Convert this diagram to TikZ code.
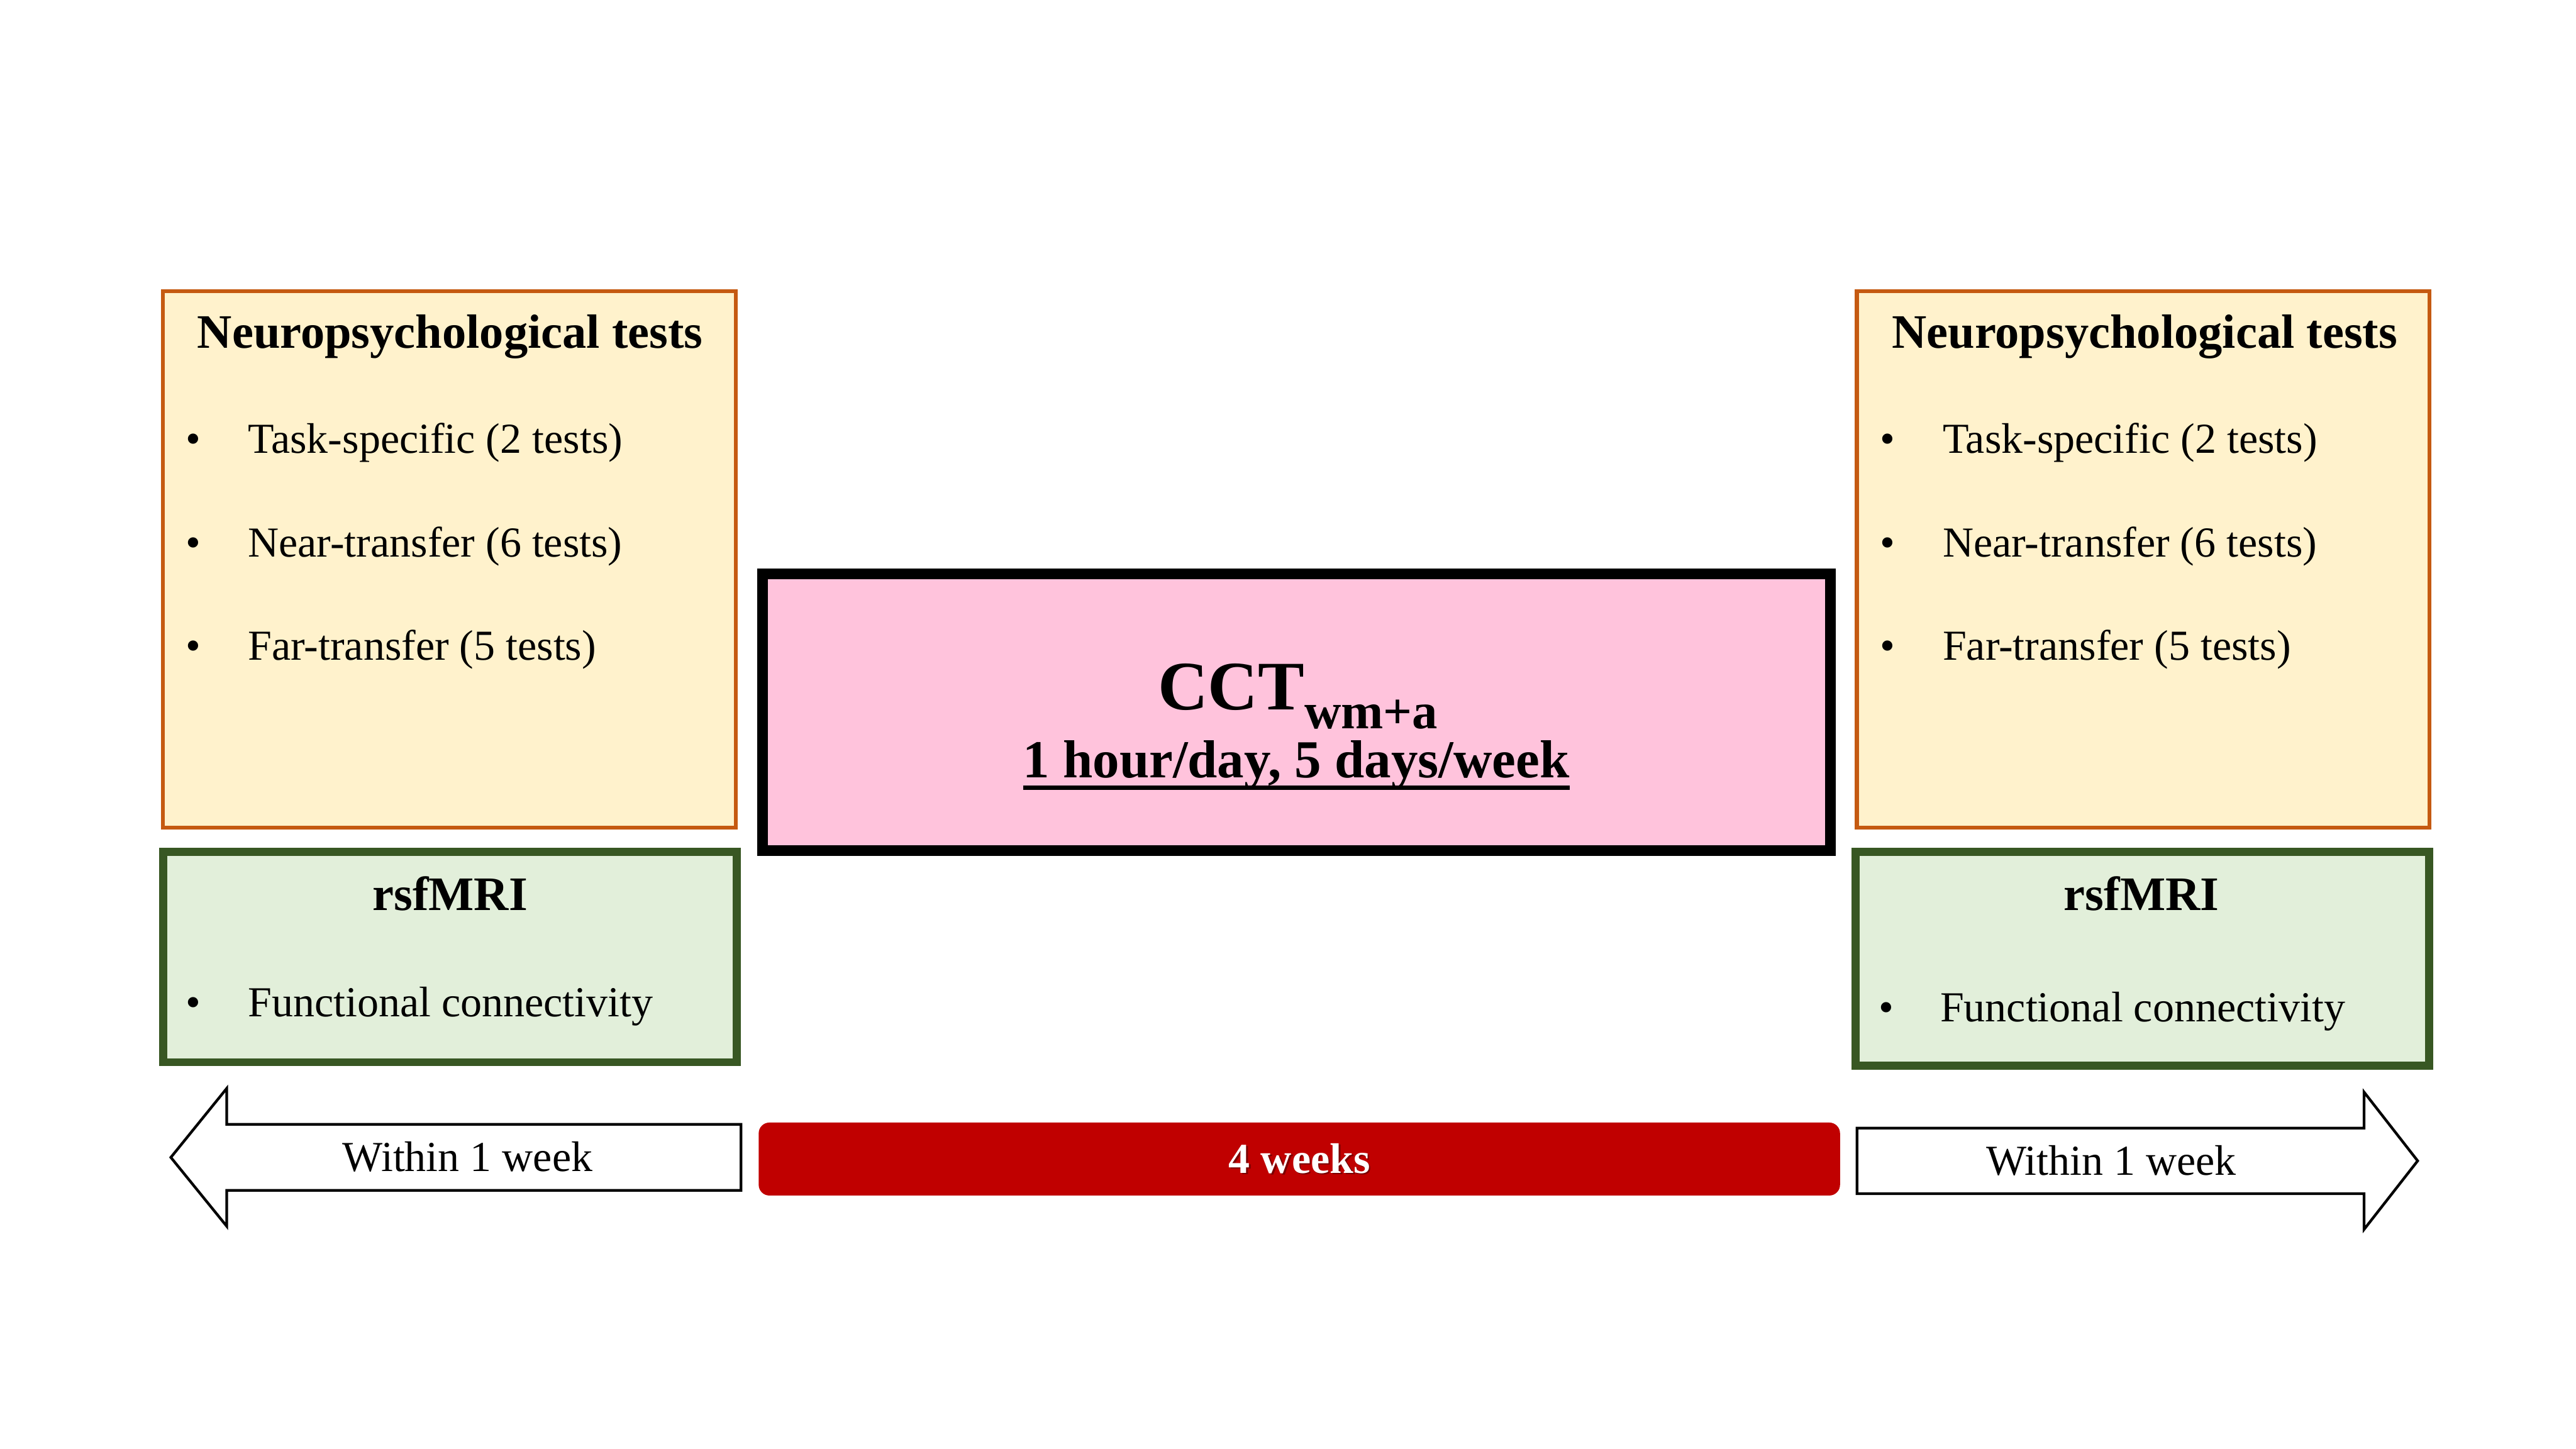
\documentclass[tikz,border=0pt]{standalone}
\usepackage{fontspec}
\setmainfont{Liberation Serif}
\definecolor{npborder}{HTML}{C55A11}
\definecolor{npfill}{HTML}{FFF2CC}
\definecolor{mriborder}{HTML}{385723}
\definecolor{mrifill}{HTML}{E2EFDA}
\definecolor{cctfill}{HTML}{FFC3DC}
\definecolor{barred}{HTML}{C00000}
\begin{document}
\begin{tikzpicture}[x=0.0216cm,y=-0.0216cm,
  area/.style={rectangle, anchor=north west, inner sep=0pt, outer sep=0pt},
  npbox/.style={area, draw=npborder, fill=npfill, line width=1.5pt},
  mribox/.style={area, draw=mriborder, fill=mrifill, line width=3pt},
  cctbox/.style={area, draw=black, fill=cctfill, line width=4pt},
  txt/.style={inner sep=0pt, outer sep=0pt},
  ttl/.style={txt, anchor=base, font=\fontsize{18}{22}\selectfont\bfseries},
  item/.style={txt, anchor=base west, font=\fontsize{16}{19}\selectfont},
  bul/.style={txt, anchor=base, font=\fontsize{16}{19}\selectfont},
  arrowshape/.style={draw=black, fill=white, line width=1pt, line join=miter},
]
\useasboundingbox (0,0) rectangle (1568,882);

% ---------- boxes ----------
\node[npbox, minimum width={348.6*0.0216cm}, minimum height={326.6*0.0216cm}] (npL) at (99.2,177.2) {};
\node[mribox, minimum width={349.2*0.0216cm}, minimum height={128.2*0.0216cm}] (mriL) at (99.4,518.4) {};
\node[cctbox, minimum width={649.9*0.0216cm}, minimum height={168.4*0.0216cm}] (cct) at (464.3,349.3) {};
\node[npbox, minimum width={348.6*0.0216cm}, minimum height={326.6*0.0216cm}] (npR) at (1130.2,177.2) {};
\node[mribox, minimum width={349.2*0.0216cm}, minimum height={130.2*0.0216cm}] (mriR) at (1129.4,518.4) {};

% ---------- left neuropsych ----------
\node[ttl] (npLt) at (274,211.7) {Neuropsychological tests};
\node[bul] (npLb1) at (117.5,275.8) {•};
\node[item] (npLi1) at (151,275.8) {Task-specific (2 tests)};
\node[bul] (npLb2) at (117.5,338.9) {•};
\node[item] (npLi2) at (151,338.9) {Near-transfer (6 tests)};
\node[bul] (npLb3) at (117.5,401.8) {•};
\node[item] (npLi3) at (151,401.8) {Far-transfer (5 tests)};

% ---------- right neuropsych ----------
\node[ttl] (npRt) at (1305.5,211.7) {Neuropsychological tests};
\node[bul] (npRb1) at (1149,275.8) {•};
\node[item] (npRi1) at (1182.5,275.8) {Task-specific (2 tests)};
\node[bul] (npRb2) at (1149,338.9) {•};
\node[item] (npRi2) at (1182.5,338.9) {Near-transfer (6 tests)};
\node[bul] (npRb3) at (1149,401.8) {•};
\node[item] (npRi3) at (1182.5,401.8) {Far-transfer (5 tests)};

% ---------- rsfMRI ----------
\node[ttl] (mriLt) at (274,554) {rsfMRI};
\node[bul] (mriLb) at (117.5,619) {•};
\node[item] (mriLi) at (151,619) {Functional connectivity};
\node[ttl] (mriRt) at (1303.5,554) {rsfMRI};
\node[bul] (mriRb) at (1148,622) {•};
\node[item] (mriRi) at (1181,622) {Functional connectivity};

% ---------- centre ----------
\node[txt, anchor=base, font=\fontsize{26}{31}\selectfont\bfseries] (cctt) at (790,432)
  {CCT\raisebox{-7pt}{\fontsize{19}{23}\selectfont wm+a}};
\node[txt, anchor=base, font=\fontsize{20}{24}\selectfont\bfseries] (hour) at (789,473.5)
  {1 hour/day, 5 days/week};
\draw[line width=1.6pt] ([yshift=-3.6pt]hour.base west) -- ([yshift=-3.6pt]hour.base east);

% ---------- timeline ----------
\draw[arrowshape] (451,684.4) -- (138,684.4) -- (138,662.5) -- (104,704.5)
  -- (138,746.4) -- (138,724.6) -- (451,724.6) -- cycle;
\node[txt, anchor=base, font=\fontsize{16}{19}\selectfont] (wL) at (284.6,713) {Within 1 week};

\node[area, fill=barred, rounded corners=4pt, minimum width={658.2*0.0216cm}, minimum height={44.4*0.0216cm}] (bar) at (461.8,683.3) {};
\node[txt, anchor=base, font=\fontsize{16}{19}\selectfont\bfseries, text=black, opacity=0.35] (wksh) at (792,715) {4 weeks};
\node[txt, anchor=base, font=\fontsize{16}{19}\selectfont\bfseries, text=white] (wks) at (791,714) {4 weeks};

\draw[arrowshape] (1130.3,686.7) -- (1439,686.7) -- (1439,664.8) -- (1471.6,706.6)
  -- (1439,748.3) -- (1439,726.6) -- (1130.3,726.6) -- cycle;
\node[txt, anchor=base, font=\fontsize{16}{19}\selectfont] (wR) at (1285,715.4) {Within 1 week};
\end{tikzpicture}
\end{document}
